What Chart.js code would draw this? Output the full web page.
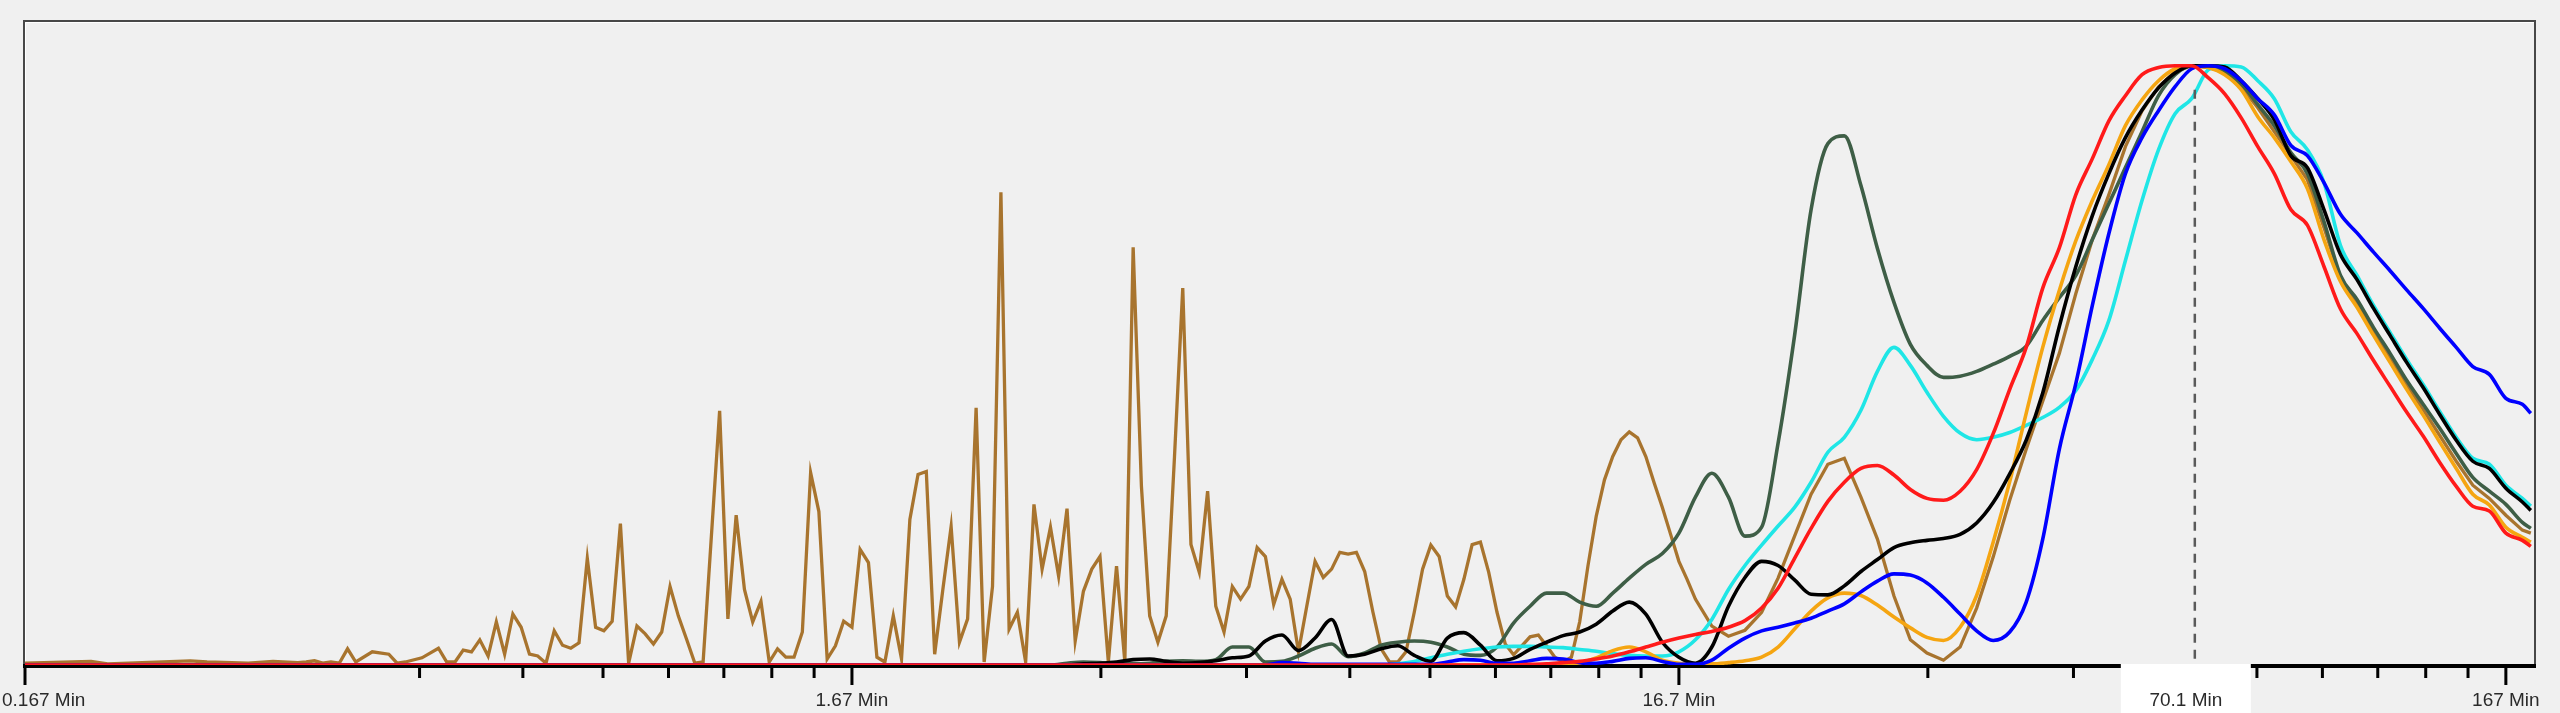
<!DOCTYPE html>
<html>
<head>
<meta charset="utf-8">
<title>Chromatogram overlay</title>
<script src="https://cdn.jsdelivr.net/npm/chart.js@4.4.1/dist/chart.umd.min.js"></script>
<style>
    html, body { margin: 0; padding: 0; background: #f0f0f0; }
    #wrap { position: relative; width: 2560px; height: 713px; }
</style>
</head>
<body>
<div id="wrap"><canvas id="chart"></canvas></div>
<script>
// Times are in seconds (axis labels show minutes)
const brownTimes = [
    10, 12.02, 12.59, 15.85, 16.6, 18.62, 19.95, 21.38, 21.88, 22.39,
    22.91, 23.44, 23.99, 24.55, 25.12, 26.3, 27.54, 28.18, 28.84, 30.2,
    31.62, 32.36, 33.11, 33.88, 34.67, 35.48, 36.31, 37.15, 38.02, 38.9,
    39.81, 40.74, 41.69, 42.66, 43.65, 44.67, 45.71, 46.77, 47.86, 48.98,
    50.12, 51.29, 52.48, 53.7, 54.95, 56.23, 57.54, 58.88, 60.26, 61.66,
    63.1, 64.57, 66.07, 69.18, 70.79, 72.44, 74.13, 75.86, 77.62, 79.43,
    81.28, 83.18, 85.11, 87.1, 89.13, 91.2, 93.33, 95.5, 97.72, 100,
    102.3, 104.7, 107.2, 109.6, 112.2, 114.8, 117.5, 120.2, 123, 125.9,
    128.8, 131.8, 134.9, 138, 141.3, 144.5, 147.9, 151.4, 154.9, 158.5,
    162.2, 166, 169.8, 173.8, 177.8, 182, 186.2, 190.5, 195, 199.5,
    204.2, 208.9, 213.8, 218.8, 223.9, 229.1, 234.4, 239.9, 245.5, 251.2,
    257, 263, 269.2, 275.4, 281.8, 288.4, 295.1, 302, 309, 316.2,
    323.6, 331.1, 338.8, 346.7, 354.8, 363.1, 371.5, 380.2, 389, 398.1,
    407.4, 416.9, 426.6, 436.5, 446.7, 457.1, 467.7, 478.6, 489.8, 501.2,
    512.9, 524.8, 537, 549.5, 562.3, 575.4, 588.8, 602.6, 616.6, 631,
    645.7, 660.7, 676.1, 691.8, 707.9, 724.4, 741.3, 758.6, 776.2, 794.3,
    812.8, 831.8, 851.1, 871, 891.3, 912, 933.3, 955, 977.2, 1000,
    1023, 1047, 1096, 1148, 1202, 1259, 1318, 1380, 1445, 1514,
    1585, 1660, 1738, 1820, 1905, 1995, 2089, 2188, 2291, 2399,
    2512, 2630, 2754, 2884, 3020, 3162, 3311, 3467, 3631, 3802,
    3981, 4169, 4365, 4571, 4786, 5012, 5248, 5495, 5754, 6026,
    6310, 6607, 6918, 7244, 7586, 7943, 8318, 8710, 9120, 9550,
    10000, 10470, 10720
];
const brownValues = [
    0.3, 0.6, 0.2, 0.7, 0.5, 0.3, 0.6, 0.4, 0.5, 0.7,
    0.3, 0.5, 0.3, 2.7, 0.5, 2.2, 1.8, 0.3, 0.5, 1.2,
    2.8, 0.5, 0.5, 2.5, 2.2, 4.2, 1.5, 7.2, 1.8, 8.5,
    6.3, 1.8, 1.5, 0.3, 5.7, 3.3, 2.8, 3.7, 17.8, 6.3,
    5.7, 7.3, 23.6, 0.3, 6.5, 5.2, 3.5, 5.5, 13.1, 8.2,
    4.3, 0.3, 0.5, 42.4, 7.7, 25.0, 12.6, 7.2, 10.6, 0.5,
    2.7, 1.3, 1.3, 5.5, 32.1, 25.6, 1.0, 3.2, 7.3, 6.3,
    19.3, 17.1, 1.3, 0.5, 8.2, 1.0, 24.3, 31.8, 32.3, 1.8,
    12.6, 23.1, 3.8, 7.7, 42.9, 0.5, 13.1, 78.9, 6.0, 8.8,
    0.5, 26.8, 16.0, 23.0, 14.8, 26.1, 4.0, 12.3, 16.0, 18.1,
    0.5, 16.5, 0.5, 69.7, 29.8, 8.2, 3.8, 8.2, 34.8, 62.9,
    20.1, 15.5, 29.0, 9.8, 5.5, 13.1, 11.0, 13.1, 19.6, 18.1,
    10.1, 14.3, 11.0, 2.2, 9.8, 17.3, 14.6, 16.0, 18.8, 18.5,
    18.8, 15.6, 8.8, 2.7, 0.5, 0.5, 2.2, 8.8, 16.0, 20.0,
    18.1, 11.5, 9.7, 14.3, 20.1, 20.5, 15.5, 8.8, 3.5, 1.7,
    3.2, 4.7, 5.0, 3.2, 1.3, 0.5, 1.3, 7.2, 16.5, 24.8,
    30.9, 34.8, 37.6, 38.9, 37.9, 34.8, 30.4, 26.3, 21.8, 17.3,
    14.3, 11, 6.5, 4.8, 5.8, 8.8, 14.5, 21.5, 28.5, 33.5,
    34.5, 28, 21, 11.5, 4.2, 2, 0.8, 3, 9.5, 18,
    27.5, 36, 44, 52, 62, 71, 78.5, 86.5, 92.5, 96.5,
    99, 100, 99.7, 99, 96.5, 93, 89, 85, 81, 73,
    64.5, 60.3, 55.7, 51.3, 46.8, 42.6, 38.3, 34, 30, 27.8,
    25, 22.5, 22
];

const curveTimes = [
    10, 158.5, 166, 173.8, 182, 190.5, 199.5, 208.9, 218.8, 229.1,
    239.9, 251.2, 263, 275.4, 288.4, 302, 316.2, 331.1, 346.7, 363.1,
    380.2, 398.1, 416.9, 436.5, 457.1, 478.6, 501.2, 524.8, 549.5, 575.4,
    602.6, 631, 660.7, 691.8, 724.4, 758.6, 794.3, 831.8, 871, 912,
    955, 1000, 1047, 1096, 1148, 1202, 1259, 1318, 1380, 1445,
    1514, 1585, 1660, 1738, 1820, 1905, 1995, 2089, 2188, 2291,
    2399, 2512, 2630, 2754, 2884, 3020, 3162, 3311, 3467, 3631,
    3802, 3981, 4169, 4365, 4571, 4786, 5012, 5248, 5495, 5754,
    6026, 6310, 6607, 6918, 7244, 7586, 7943, 8318, 8710, 9120,
    9550, 10000, 10470, 10720
];
const redValues = [
    0, 0, 0, 0, 0, 0, 0, 0, 0, 0,
    0, 0, 0, 0, 0, 0, 0, 0, 0, 0,
    0, 0, 0, 0, 0, 0, 0, 0, 0, 0,
    0, 0, 0.1, 0.2, 0.4, 0.6, 1, 1.5, 2.2, 3,
    3.8, 4.5, 5.1, 5.6, 6.3, 7.4, 9.5, 12.8, 17.8, 22.8,
    27.3, 30.5, 32.8, 33.3, 31.7, 29.3, 27.8, 27.5, 29, 32.6,
    38.6, 46, 53, 62.9, 69.6, 78.5, 84.5, 90.8, 95, 98.5,
    99.7, 100, 100, 98, 95.3, 91.3, 86.5, 82, 76, 73.4,
    66.5, 59.4, 55.3, 50.8, 46.5, 42.2, 38.2, 33.8, 29.8, 26.5,
    25.7, 22, 20.8, 19.8
];
const orangeValues = [
    0, 0, 0, 0, 0, 0, 0, 0, 0, 0,
    0, 0, 0, 0, 0, 0, 0, 0, 0, 0,
    0, 0, 0, 0, 0, 0, 0, 0, 0, 0,
    0, 0, 0, 0, 0, 0.3, 1.2, 2.4, 3, 2.2,
    0.8, 0.3, 0.2, 0.2, 0.4, 0.7, 1.3, 3, 6, 9,
    11.2, 12, 11.6, 10, 8, 6.2, 4.6, 4.1, 6.3, 11.6,
    20.5, 30.6, 42, 53, 62.5, 70.8, 77.5, 83.5, 90, 94.3,
    97.5, 99.5, 100, 99.7, 98.5, 96, 91.5, 88, 84, 79.5,
    71, 64, 59.7, 55, 50.5, 46, 41.7, 37.2, 32.8, 28.5,
    26.7, 23, 21.3, 20.5
];
const cyanValues = [
    0, 0, 0, 0, 0, 0, 0, 0, 0, 0,
    0, 0, 0, 0, 0, 0, 0, 0, 0, 0,
    0, 0, 0, 0, 0.2, 0.6, 1.2, 1.8, 2.3, 2.7,
    3, 3.1, 3.1, 3, 2.9, 2.6, 2.3, 1.9, 1.6, 1.5,
    1.5, 2.2, 4.2, 7.6, 12.6, 16.6, 20, 23.2, 26.3, 30.5,
    35.5, 38, 42.5, 49, 53, 50, 45.5, 41.5, 38.7, 37.6,
    38, 38.8, 40, 41.3, 43, 45.8, 51, 57.5, 67.5, 77.5,
    86, 92, 94.5, 99.3, 100, 99.8, 97.5, 94.5, 89, 86,
    80.5, 70, 65, 60, 55.5, 51, 46.8, 42.3, 38, 34.5,
    33.5, 30, 27.8, 26.5
];
const blackValues = [
    0, 0, 0, 0, 0, 0.2, 0.3, 0.5, 0.9, 1,
    0.6, 0.3, 0.4, 0.7, 1.2, 1.5, 4, 5, 2.4, 4.5,
    7.6, 1.5, 1.8, 2.7, 3.2, 1.6, 0.6, 4.5, 5.4, 3.3,
    0.7, 1.1, 2.6, 3.8, 4.9, 5.5, 6.8, 9, 10.5, 8.5,
    3.8, 1.3, 0.3, 3, 9.8, 14.6, 17.3, 16.6, 14.2, 11.8,
    11.7, 13.2, 15.6, 17.6, 19.6, 20.4, 20.8, 21.1, 21.8, 23.7,
    27.1, 31.9, 37.5, 45.4, 56.5, 66.5, 75, 82, 88, 92.6,
    96.3, 98.8, 100, 100, 99.8, 97.5, 94.5, 91, 85, 83,
    76, 68.5, 64.3, 59.5, 55, 50.5, 46.3, 41.8, 37.5, 34,
    32.8, 29.5, 27.2, 25.8
];
const blueValues = [
    0, 0, 0, 0, 0, 0, 0, 0, 0, 0,
    0, 0, 0, 0, 0, 0, 0, 0.4, 0.3, 0.1,
    0.1, 0.1, 0.1, 0.1, 0.1, 0.1, 0.1, 0.5, 0.9, 0.8,
    0.3, 0.3, 0.7, 1.1, 1, 0.4, 0.3, 0.6, 1.1, 1.2,
    0.6, 0.1, 0.1, 0.8, 2.8, 4.5, 5.7, 6.3, 7, 7.8,
    9, 10.2, 12.2, 14, 15.2, 15, 13.7, 11.3, 8.5, 5.7,
    4.1, 5.5, 10.5, 21, 36, 47, 60, 72, 82, 88,
    92.5, 96.5, 99.5, 100, 99.5, 97.5, 94.5, 91.8, 86.7, 85,
    80.5, 75.2, 72.1, 68.9, 65.8, 62.6, 59.5, 56.2, 53, 49.8,
    48.5, 44.5, 43.5, 42
];
const greenValues = [
    0, 0, 0, 0, 0.3, 0.5, 0.4, 0.2, 0.2, 0.3,
    0.6, 0.7, 0.6, 0.9, 3, 3, 0.5, 0.6, 1.5, 2.8,
    3.5, 1.4, 2, 3.3, 3.8, 4, 3.8, 3, 1.8, 1.6,
    3, 7, 9.8, 12, 12, 10.5, 9.8, 12, 14.5, 16.8,
    18.6, 22, 28, 32, 28, 21.5, 23, 37, 55, 76,
    87, 88.3, 80, 69.5, 60.5, 53.5, 50, 48, 48.2, 49,
    50.2, 51.5, 53.2, 57.5, 61.3, 65, 71, 77, 83, 89,
    95, 98.5, 100, 99.8, 99, 97, 93.5, 90, 85.5, 82,
    74, 65, 61, 56.3, 52, 47.5, 43.5, 39.5, 35.3, 31.3,
    29, 26.8, 23.8, 22.8
];

const majorTicks = [10, 100, 1000, 10000];
const minorTicks = [30, 40, 50, 60, 70, 80, 90,
    200, 300, 400, 500, 600, 700, 800, 900,
    2000, 3000, 4000, 5000, 6000, 7000, 8000, 9000];
const tickLabels = ['0.167 Min', '1.67 Min', '16.7 Min', '167 Min'];
const markerTime = 4206;
const markerTop = 96;
const markerLabel = '70.1 Min';
const xMin = 10;
const xMax = 10815;

function points(times, values) {
    return times.map((t, i) => ({ x: t, y: values[i] }));
}

// Frame, bottom axis, ticks and the cursor marker
const chromePlugin = {
    id: 'chrome',
    beforeDatasetsDraw(chart) {
        const { ctx, chartArea: a } = chart;
        ctx.save();
        ctx.strokeStyle = '#484848';
        ctx.lineWidth = 2;
        ctx.beginPath();
        ctx.moveTo(a.left - 1, a.bottom);
        ctx.lineTo(a.left - 1, a.top - 1);
        ctx.lineTo(a.right + 1, a.top - 1);
        ctx.lineTo(a.right + 1, a.bottom);
        ctx.stroke();
        ctx.strokeStyle = '#ffffff';
        ctx.lineWidth = 1;
        ctx.beginPath();
        ctx.moveTo(a.left + 0.5, a.bottom);
        ctx.lineTo(a.left + 0.5, a.top + 0.5);
        ctx.lineTo(a.right, a.top + 0.5);
        ctx.stroke();
        ctx.fillStyle = '#000000';
        ctx.fillRect(a.left - 2, a.bottom - 1, a.right - a.left + 4, 4);
        ctx.restore();
    },
    afterDatasetsDraw(chart) {
        const { ctx, chartArea: a, scales } = chart;
        const px = scales.x.getPixelForValue(markerTime);
        ctx.save();
        ctx.strokeStyle = '#5a5a5a';
        ctx.lineWidth = 2.5;
        ctx.setLineDash([9, 7]);
        ctx.beginPath();
        ctx.moveTo(px, scales.y.getPixelForValue(markerTop));
        ctx.lineTo(px, a.bottom);
        ctx.stroke();
        ctx.restore();
    },
    afterDraw(chart) {
        const { ctx, chartArea: a, scales } = chart;
        const sx = scales.x;
        const axisY = a.bottom + 3;
        ctx.save();
        ctx.fillStyle = '#000000';
        minorTicks.forEach(v => {
            const px = sx.getPixelForValue(v);
            ctx.fillRect(px - 1.5, axisY, 3, 10);
        });
        majorTicks.forEach(v => {
            const px = sx.getPixelForValue(v);
            ctx.fillRect(px - 1.5, axisY, 3, 17);
        });
        ctx.font = '19px "Liberation Sans", Arial, sans-serif';
        ctx.fillStyle = '#2a2a2a';
        ctx.textBaseline = 'middle';
        ctx.textAlign = 'left';
        majorTicks.forEach((v, i) => {
            const px = sx.getPixelForValue(v);
            const w = ctx.measureText(tickLabels[i]).width;
            const left = Math.max(2, Math.min(chart.width - 2 - w, px - w / 2));
            ctx.fillText(tickLabels[i], left, 701);
        });
        // cursor label box
        const mx = sx.getPixelForValue(markerTime) - 9;
        ctx.fillStyle = '#ffffff';
        ctx.fillRect(mx - 65, a.bottom - 1, 130, chart.height - a.bottom + 1);
        ctx.fillStyle = '#2a2a2a';
        ctx.textAlign = 'center';
        ctx.fillText(markerLabel, mx, 701);
        ctx.restore();
    }
};

function lineSet(label, color, times, values, width, smooth) {
    return {
        label: label,
        data: points(times, values),
        borderColor: color,
        borderWidth: width,
        pointRadius: 0,
        fill: false,
        tension: 0,
        cubicInterpolationMode: smooth ? 'monotone' : 'default'
    };
}

document.addEventListener('DOMContentLoaded', function() {
    const ctx = document.getElementById('chart');
    new Chart(ctx, {
        type: 'line',
        data: {
            datasets: [
                lineSet('Red', '#ff1a1a', curveTimes, redValues, 3.6, true),
                lineSet('Blue', '#0000ff', curveTimes, blueValues, 3.6, true),
                lineSet('Black', '#000000', curveTimes, blackValues, 3.6, true),
                lineSet('Orange', '#f5a511', curveTimes, orangeValues, 3.6, true),
                lineSet('Cyan', '#1fe6e6', curveTimes, cyanValues, 3.6, true),
                lineSet('Green', '#3e5e46', curveTimes, greenValues, 3.6, true),
                lineSet('Brown', '#a8742e', brownTimes, brownValues, 3.3, false)
            ]
        },
        options: {
            responsive: true,
            maintainAspectRatio: false,
            animation: false,
            events: [],
            layout: { padding: { left: 25, right: 26, top: 22, bottom: 48 } },
            scales: {
                x: { type: 'logarithmic', min: xMin, max: xMax, display: false },
                y: { min: 0, max: 107.3, display: false }
            },
            plugins: {
                legend: { display: false },
                tooltip: { enabled: false }
            }
        },
        plugins: [chromePlugin]
    });
});
</script>
</body>
</html>
